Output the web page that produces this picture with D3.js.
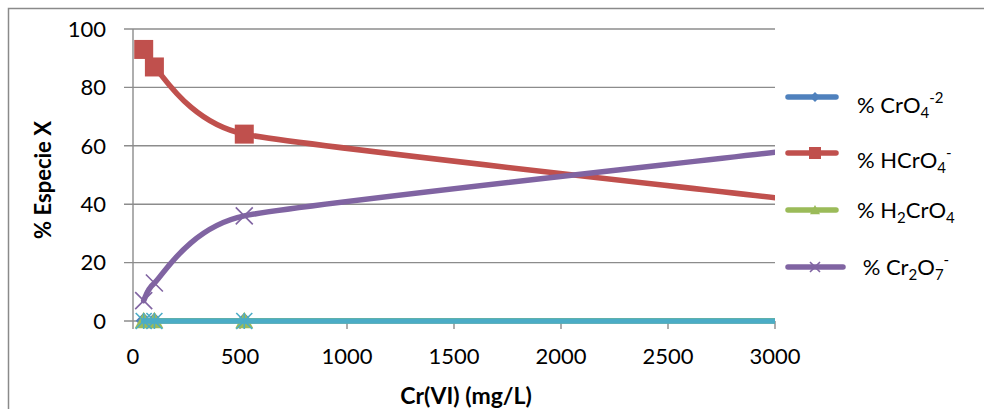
<!DOCTYPE html>
<html>
<head>
<meta charset="utf-8">
<script src="https://cdn.jsdelivr.net/npm/d3@7"></script>
<style>
  body { margin: 0; background: #fff; }
  svg { display: block; }
  text { font-family: Lato, "Open Sans", sans-serif; fill: #000; }
</style>
</head>
<body>
<svg id="chart" width="984" height="409"></svg>
<script>
// Cr(VI) concentration (mg/L); the last point lies just past the axis maximum
const concentration = [50, 100, 520, 3050];
// Percentage of each chromium species
const pctCrO4   = [0.05, 0.05, 0.05, 0.05];
const pctHCrO4  = [93, 87, 64, 41.8];
const pctH2CrO4 = [0.1, 0.1, 0.1, 0.1];
const pctCr2O7  = [7, 13, 36, 58.2];
const pctOther  = [0, 0, 0, 0];

const xTicks = [0, 500, 1000, 1500, 2000, 2500, 3000];
const yTicks = [0, 20, 40, 60, 80, 100];

// Legend labels as rich text runs: [text, "n" normal | "sub" | "sup"]
const series = [
  { values: pctCrO4,   color: "#4F81BD", marker: "diamond",  size: 8,
    label: [["% CrO", "n"], ["4", "sub"], ["-2", "sup"]] },
  { values: pctHCrO4,  color: "#C0504D", marker: "square",   size: 9.5,
    label: [["% HCrO", "n"], ["4", "sub"], ["-", "sup"]] },
  { values: pctH2CrO4, color: "#9BBB59", marker: "triangle", size: 9,
    label: [["% H", "n"], ["2", "sub"], ["CrO", "n"], ["4", "sub"]] },
  { values: pctCr2O7,  color: "#8064A2", marker: "x",        size: 8.5,
    label: [["\u00a0% Cr", "n"], ["2", "sub"], ["O", "n"], ["7", "sub"], ["-", "sup"]] },
  { values: pctOther,  color: "#4BACC6", marker: "star",     size: 8,
    label: null }
];

const svg = d3.select("#chart");
const W = 984, H = 409;

const x = d3.scaleLinear().domain([0, 3000]).range([133, 775]);
const y = d3.scaleLinear().domain([0, 100]).range([321, 29]);

// Smoothed line: cubic Béziers whose control arms follow the neighbour
// chord and are limited to half of the shorter adjoining segment.
function smoothCurve(context) {
  let pts;
  return {
    areaStart() {}, areaEnd() {},
    lineStart() { pts = []; },
    point(px, py) { pts.push([+px, +py]); },
    lineEnd() {
      const n = pts.length;
      if (!n) return;
      context.moveTo(pts[0][0], pts[0][1]);
      const dist = (a, b) => Math.hypot(b[0] - a[0], b[1] - a[1]);
      const arms = pts.map((p, i) => {
        const prev = pts[Math.max(i - 1, 0)], next = pts[Math.min(i + 1, n - 1)];
        const dx = next[0] - prev[0], dy = next[1] - prev[1];
        const d = Math.hypot(dx, dy);
        if (!d) return [0, 0];
        let len = d / 6;
        if (i > 0) len = Math.min(len, dist(prev, p) / 2);
        if (i < n - 1) len = Math.min(len, dist(p, next) / 2);
        return [dx / d * len, dy / d * len];
      });
      for (let i = 0; i < n - 1; i++) {
        const a = pts[i], b = pts[i + 1];
        context.bezierCurveTo(a[0] + arms[i][0], a[1] + arms[i][1],
                              b[0] - arms[i + 1][0], b[1] - arms[i + 1][1],
                              b[0], b[1]);
      }
    }
  };
}

// Outer chart frame
svg.append("rect")
  .attr("x", 8.5).attr("y", 8.5)
  .attr("width", W + 20).attr("height", H + 20)
  .attr("fill", "none").attr("stroke", "#8a8a8a").attr("stroke-width", 1.5);

// Horizontal gridlines (extend left as tick marks)
svg.append("g").selectAll("line").data(yTicks).join("line")
  .attr("x1", 124).attr("x2", x(3000))
  .attr("y1", d => y(d)).attr("y2", d => y(d))
  .attr("stroke", "#8c8c8c").attr("stroke-width", 1.4);

// Y axis line
svg.append("line")
  .attr("x1", x(0)).attr("x2", x(0)).attr("y1", y(100)).attr("y2", y(0))
  .attr("stroke", "#8c8c8c").attr("stroke-width", 1.4);

// X axis ticks
svg.append("g").selectAll("line").data(xTicks).join("line")
  .attr("x1", d => x(d)).attr("x2", d => x(d))
  .attr("y1", y(0)).attr("y2", y(0) + 8)
  .attr("stroke", "#8c8c8c").attr("stroke-width", 1.4);

// Y tick labels
svg.append("g").selectAll("text").data(yTicks).join("text")
  .attr("x", 106).attr("y", d => y(d)).attr("dy", "0.35em")
  .attr("text-anchor", "end").attr("font-size", 22)
  .text(d => d);

// X tick labels
svg.append("g").selectAll("text").data(xTicks).join("text")
  .attr("x", d => x(d)).attr("y", 364)
  .attr("text-anchor", "middle").attr("font-size", 22)
  .text(d => d);

// Axis titles
svg.append("text")
  .attr("x", 466).attr("y", 404)
  .attr("text-anchor", "middle").attr("font-size", 23).attr("font-weight", "bold")
  .text("Cr(VI) (mg/L)");

svg.append("text")
  .attr("transform", "translate(51,180) rotate(-90)")
  .attr("text-anchor", "middle").attr("font-size", 22).attr("font-weight", "bold")
  .text("% Especie X");

// Marker shapes centred at the origin
function markerPath(type, s) {
  switch (type) {
    case "square":   return `M${-s},${-s}h${2 * s}v${2 * s}h${-2 * s}Z`;
    case "diamond":  return `M0,${-s}L${s},0L0,${s}L${-s},0Z`;
    case "triangle": return `M0,${-s}L${s},${s * 0.85}L${-s},${s * 0.85}Z`;
    case "x":        return `M${-s},${-s}L${s},${s}M${s},${-s}L${-s},${s}`;
    case "star":     return `M${-s},${-s}L${s},${s}M${s},${-s}L${-s},${s}M0,${-s}L0,${s}`;
  }
}
const stroked = t => t === "x" || t === "star";

// Plot clip (right edge at the axis maximum)
svg.append("clipPath").attr("id", "plotClip")
  .append("rect").attr("x", 100).attr("y", 0).attr("width", x(3000) - 100).attr("height", H);

const plot = svg.append("g").attr("clip-path", "url(#plotClip)");

const line = d3.line()
  .x(d => x(d[0])).y(d => y(d[1]))
  .curve(smoothCurve);

series.forEach(s => {
  const pts = concentration.map((c, i) => [c, s.values[i]]);
  plot.append("path")
    .attr("d", line(pts))
    .attr("fill", "none").attr("stroke", s.color)
    .attr("stroke-width", 5.5).attr("stroke-linejoin", "round").attr("stroke-linecap", "round");
  plot.append("g").selectAll("path").data(pts).join("path")
    .attr("transform", d => `translate(${x(d[0])},${y(d[1])})`)
    .attr("d", markerPath(s.marker, s.size))
    .attr("fill", stroked(s.marker) ? "none" : s.color)
    .attr("stroke", s.color)
    .attr("stroke-width", stroked(s.marker) ? 1.6 : 0);
});

// Legend
const legendRows = [
  { lineY: 97,  textY: 113, x1: 788, x2: 836, textX: 857 },
  { lineY: 153, textY: 168, x1: 788, x2: 836, textX: 857 },
  { lineY: 210, textY: 218, x1: 788, x2: 836, textX: 857 },
  { lineY: 267, textY: 275, x1: 788, x2: 843, textX: 857 }
];
const legend = svg.append("g");
series.filter(s => s.label).forEach((s, i) => {
  const r = legendRows[i];
  legend.append("line")
    .attr("x1", r.x1).attr("x2", r.x2).attr("y1", r.lineY).attr("y2", r.lineY)
    .attr("stroke", s.color).attr("stroke-width", 5.5).attr("stroke-linecap", "round");
  legend.append("path")
    .attr("transform", `translate(815,${r.lineY})`)
    .attr("d", markerPath(s.marker, s.marker === "square" ? 6 : 5))
    .attr("fill", stroked(s.marker) ? "none" : s.color)
    .attr("stroke", s.color)
    .attr("stroke-width", stroked(s.marker) ? 1.6 : 0);
  const t = legend.append("text").attr("x", r.textX).attr("y", r.textY).attr("font-size", 22);
  s.label.forEach(([txt, kind]) => {
    t.append("tspan")
      .attr("y", kind === "sub" ? r.textY + 5 : kind === "sup" ? r.textY - 10 : r.textY)
      .attr("font-size", kind === "n" ? 22 : 15)
      .text(txt);
  });
});
</script>
</body>
</html>
